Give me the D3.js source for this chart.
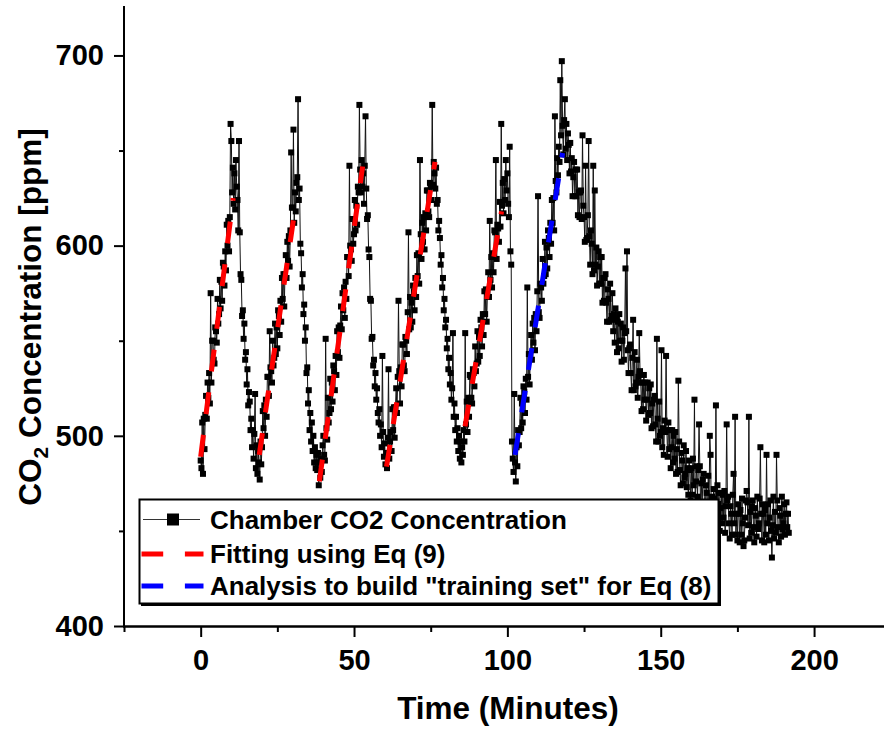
<!DOCTYPE html>
<html>
<head>
<meta charset="utf-8">
<script src="https://cdn.jsdelivr.net/npm/d3@7"></script>
<style>
  body { margin: 0; background: #fff; }
  svg { display: block; font-family: "Liberation Sans", Arial, sans-serif; font-weight: bold; }
</style>
</head>
<body>
<div id="chart"></div>
<script>
// Chamber CO2 readings, first six cycles, one reading every 0.25 min from t = 0
var cycleStep = 0.25;
var cycleCO2 = [
  487, 483, 507, 480, 509, 493, 511, 521,
  509, 528, 520, 533, 517, 575, 528, 550,
  550, 540, 538, 557, 555, 549, 572, 559,
  564, 582, 567, 581, 571, 591, 589, 579,
  597, 587, 611, 600, 613, 597, 615, 664,
  655, 628, 641, 622, 638, 619, 645, 631,
  624, 608, 655, 607, 585, 582, 563, 566,
  551, 559, 540, 544, 527, 535, 516, 523,
  518, 503, 509, 494, 503, 488, 501, 522,
  483, 495, 480, 492, 486, 477, 497, 485,
  494, 513, 504, 516, 500, 519, 510, 531,
  531, 521, 555, 536, 534, 528, 550, 537,
  541, 559, 543, 557, 546, 566, 563, 553,
  571, 560, 583, 572, 585, 568, 585, 595,
  583, 602, 592, 605, 589, 608, 649, 620,
  620, 661, 612, 628, 618, 633, 636, 677,
  624, 630, 601, 596, 578, 585, 564, 569,
  550, 557, 533, 536, 517, 524, 503, 512,
  497, 507, 492, 500, 486, 494, 483, 490,
  482, 491, 474, 486, 478, 488, 481, 495,
  500, 490, 487, 551, 504, 498, 520, 507,
  512, 530, 514, 528, 518, 537, 534, 524,
  542, 532, 555, 544, 557, 541, 558, 568,
  556, 575, 566, 578, 562, 581, 572, 594,
  594, 584, 642, 600, 598, 592, 614, 601,
  606, 624, 608, 621, 611, 631, 628, 674,
  640, 628, 645, 631, 638, 622, 642, 668,
  630, 614, 616, 598, 594, 572, 571, 551,
  552, 537, 540, 526, 533, 519, 525, 512,
  507, 514, 500, 506, 494, 542, 502, 489,
  496, 485, 491, 483, 499, 535, 488, 497,
  502, 492, 514, 503, 515, 499, 515, 525,
  512, 531, 571, 534, 517, 536, 526, 548,
  548, 537, 534, 552, 550, 543, 565, 607,
  556, 573, 557, 570, 560, 579, 576, 566,
  583, 573, 595, 584, 596, 580, 645, 606,
  593, 612, 602, 615, 598, 617, 608, 629,
  629, 618, 615, 633, 631, 624, 674, 632,
  644, 638, 630, 641, 622, 624, 608, 613,
  604, 590, 595, 578, 583, 566, 572, 557,
  561, 546, 551, 535, 541, 527, 533, 519,
  525, 554, 510, 517, 503, 510, 497, 504,
  492, 500, 488, 497, 486, 494, 490, 503,
  497, 554, 506, 518, 502, 520, 510, 532,
  531, 520, 517, 535, 533, 526, 547, 534,
  538, 555, 539, 552, 542, 561, 557, 547,
  564, 553, 576, 564, 577, 560, 576, 586,
  573, 613, 582, 594, 578, 596, 586, 608,
  607, 645, 593, 611, 609, 602, 623, 610,
  664, 621, 633, 617, 635, 624, 645, 629,
  638, 622, 615, 652, 597, 590, 497, 488,
  481, 522, 486, 476, 494, 484, 503, 495,
  502, 520, 504, 517, 507, 526, 523, 512,
  530, 519, 578, 531, 543, 527, 543, 553,
  540, 559, 549, 562, 545, 564, 555, 576,
  626, 565, 562, 580, 578, 571, 593, 580,
  584, 602, 585, 599, 588, 608, 604, 594,
  612, 601, 624, 612, 625, 608, 668, 634,
  628, 646, 637, 652, 644, 687, 658, 697,
  663, 648, 666, 677, 651, 664, 645, 659
];

// slow decay after the last cycle, one reading every 0.25 min from t = 120
var tailStart = 120;
var tailStep = 0.25;
var tailCO2 = [
  653, 638, 654, 639, 646, 626, 636, 644,
  626, 640, 626, 640, 616, 628, 615, 628,
  629, 614, 658, 621, 615, 602, 642, 603,
  604, 616, 655, 605, 590, 608, 601, 585,
  642, 587, 629, 590, 599, 579, 589, 597,
  580, 594, 580, 594, 570, 583, 571, 583,
  585, 570, 560, 577, 572, 560, 580, 561,
  563, 575, 555, 564, 549, 567, 561, 544,
  560, 546, 564, 550, 559, 539, 550, 557,
  540, 554, 588, 555, 597, 545, 533, 546,
  548, 533, 524, 541, 561, 524, 544, 526,
  528, 540, 520, 531, 554, 534, 528, 513,
  528, 514, 532, 519, 528, 508, 519, 528,
  511, 525, 512, 527, 504, 517, 505, 519,
  521, 506, 497, 551, 509, 497, 518, 500,
  502, 545, 494, 504, 490, 508, 502, 542,
  503, 489, 507, 493, 503, 483, 494, 503,
  486, 500, 488, 502, 480, 493, 481, 529,
  497, 482, 474, 491, 487, 475, 495, 478,
  480, 492, 473, 483, 469, 487, 482, 466,
  483, 469, 488, 474, 519, 464, 476, 484,
  468, 482, 506, 484, 462, 475, 464, 477,
  480, 465, 457, 474, 470, 458, 479, 461,
  500, 490, 458, 468, 454, 472, 467, 452,
  516, 455, 474, 460, 470, 450, 462, 470,
  454, 469, 457, 471, 449, 463, 506, 466,
  468, 454, 446, 463, 459, 448, 469, 480,
  454, 510, 448, 459, 445, 464, 459, 444,
  461, 448, 467, 454, 442, 445, 457, 466,
  471, 465, 453, 510, 446, 460, 449, 463,
  466, 452, 444, 462, 458, 447, 468, 451,
  454, 467, 494, 459, 445, 464, 459, 444,
  461, 448, 490, 454, 464, 445, 457, 466,
  450, 436, 453, 468, 446, 460, 449, 490,
  466, 452, 444, 462, 458, 447, 468, 451,
  454, 464, 448, 459, 465, 452, 459, 449
];

// fitted segments [t start, ppm start, t end, ppm end]
var redFits = [
  [0, 489, 10.6, 625],
  [19.1, 490, 31.0, 622],
  [38.7, 476, 52.8, 641.6],
  [60.6, 483.8, 76.4, 644],
  [86.2, 505, 98.1, 618]
];
var blueFits = [
  [102.5, 490, 118.0, 648.7]
];

var xMajor = [0, 50, 100, 150, 200];
var xMinor = [-25, 25, 75, 125, 175];
var yMajor = [400, 500, 600, 700];
var yMinor = [450, 550, 650];

var legendLabels = [
  "Chamber CO2 Concentration",
  "Fitting using Eq (9)",
  "Analysis to build \"training set\" for Eq (8)"
];

// build the point list
var points = [];
cycleCO2.forEach(function(v, i) { points.push({ t: i * cycleStep, v: v }); });
tailCO2.forEach(function(v, i) { points.push({ t: tailStart + i * tailStep, v: v }); });

var svgWidth = 884;
var svgHeight = 731;

var svg = d3.select("#chart")
  .append("svg")
  .attr("width", svgWidth)
  .attr("height", svgHeight);

var xScale = d3.scaleLinear().domain([-25, 222.8]).range([124, 884]);
var yScale = d3.scaleLinear().domain([400, 726]).range([626, 6]);

// data line + markers
var line = d3.line().x(d => xScale(d.t)).y(d => yScale(d.v));

svg.append("path")
  .datum(points)
  .attr("d", line)
  .attr("fill", "none")
  .attr("stroke", "#111")
  .attr("stroke-width", 1);

svg.append("g").selectAll("rect")
  .data(points)
  .enter()
  .append("rect")
  .attr("x", d => xScale(d.t) - 3)
  .attr("y", d => yScale(d.v) - 3)
  .attr("width", 6)
  .attr("height", 6)
  .attr("fill", "#000");

// fit lines
function drawFits(fits, color) {
  svg.append("g").selectAll("line")
    .data(fits)
    .enter()
    .append("line")
    .attr("x1", d => xScale(d[0]))
    .attr("y1", d => yScale(d[1]))
    .attr("x2", d => xScale(d[2]))
    .attr("y2", d => yScale(d[3]))
    .attr("stroke", color)
    .attr("stroke-width", 5)
    .attr("stroke-dasharray", "22,21");
}
drawFits(redFits, "#ff0000");
drawFits(blueFits, "#0000ff");

// legend
var lg = svg.append("g");
lg.append("rect")
  .attr("x", 141).attr("y", 501).attr("width", 580).attr("height", 105)
  .attr("fill", "#000");
lg.append("rect")
  .attr("x", 139.5).attr("y", 499.5).attr("width", 579).attr("height", 104)
  .attr("fill", "#fff").attr("stroke", "#000").attr("stroke-width", 2);

var rowY = [519.5, 554, 586];
lg.append("line")
  .attr("x1", 143).attr("x2", 200).attr("y1", rowY[0]).attr("y2", rowY[0])
  .attr("stroke", "#333").attr("stroke-width", 1);
lg.append("rect")
  .attr("x", 167).attr("y", rowY[0] - 6).attr("width", 12).attr("height", 12)
  .attr("fill", "#000");
lg.append("line")
  .attr("x1", 141.5).attr("x2", 203.5).attr("y1", rowY[1]).attr("y2", rowY[1])
  .attr("stroke", "#ff0000").attr("stroke-width", 5).attr("stroke-dasharray", "21.7,21.7");
lg.append("line")
  .attr("x1", 141.5).attr("x2", 203.5).attr("y1", rowY[2]).attr("y2", rowY[2])
  .attr("stroke", "#0000ff").attr("stroke-width", 5).attr("stroke-dasharray", "21.7,21.7");

lg.selectAll("text")
  .data(legendLabels)
  .enter()
  .append("text")
  .attr("x", 210)
  .attr("y", (d, i) => rowY[i] + 9)
  .attr("font-size", 26)
  .text(d => d);

// axes
function styleAxis(g, width) {
  g.select(".domain").remove();
  g.selectAll(".tick line").attr("stroke", "#000").attr("stroke-width", width);
}

var xAxisG = svg.append("g").attr("transform", "translate(0,626)");
xAxisG.call(d3.axisBottom(xScale).tickValues(xMajor).tickSize(11).tickSizeOuter(0).tickPadding(12))
  .call(g => styleAxis(g, 2))
  .call(g => g.selectAll(".tick text").attr("font-size", 29).attr("fill", "#000")
    .attr("font-family", "Liberation Sans, Arial, sans-serif").attr("font-weight", "bold"));
svg.append("g").attr("transform", "translate(0,626)")
  .call(d3.axisBottom(xScale).tickValues(xMinor).tickSize(6).tickSizeOuter(0).tickFormat(""))
  .call(g => styleAxis(g, 2));

var yAxisG = svg.append("g").attr("transform", "translate(124,0)");
yAxisG.call(d3.axisLeft(yScale).tickValues(yMajor).tickSize(10).tickSizeOuter(0).tickPadding(10))
  .call(g => styleAxis(g, 2))
  .call(g => g.selectAll(".tick text").attr("font-size", 29).attr("fill", "#000")
    .attr("font-family", "Liberation Sans, Arial, sans-serif").attr("font-weight", "bold"));
svg.append("g").attr("transform", "translate(124,0)")
  .call(d3.axisLeft(yScale).tickValues(yMinor).tickSize(5).tickSizeOuter(0).tickFormat(""))
  .call(g => styleAxis(g, 2));

// axis lines
svg.append("line").attr("x1", 124).attr("x2", 124).attr("y1", 6).attr("y2", 627)
  .attr("stroke", "#000").attr("stroke-width", 2);
svg.append("line").attr("x1", 123).attr("x2", 884).attr("y1", 626.5).attr("y2", 626.5)
  .attr("stroke", "#000").attr("stroke-width", 2.5);

// axis titles
svg.append("text")
  .attr("x", 508)
  .attr("y", 719)
  .attr("text-anchor", "middle")
  .attr("font-size", 31.5)
  .text("Time (Minutes)");

var yTitle = svg.append("text")
  .attr("transform", "translate(41,317) rotate(-90)")
  .attr("text-anchor", "middle")
  .attr("font-size", 31.5);
yTitle.append("tspan").text("CO");
yTitle.append("tspan").attr("font-size", 21).attr("dy", 7).text("2");
yTitle.append("tspan").attr("dy", -7).text(" Concentration [ppm]");
</script>
</body>
</html>
